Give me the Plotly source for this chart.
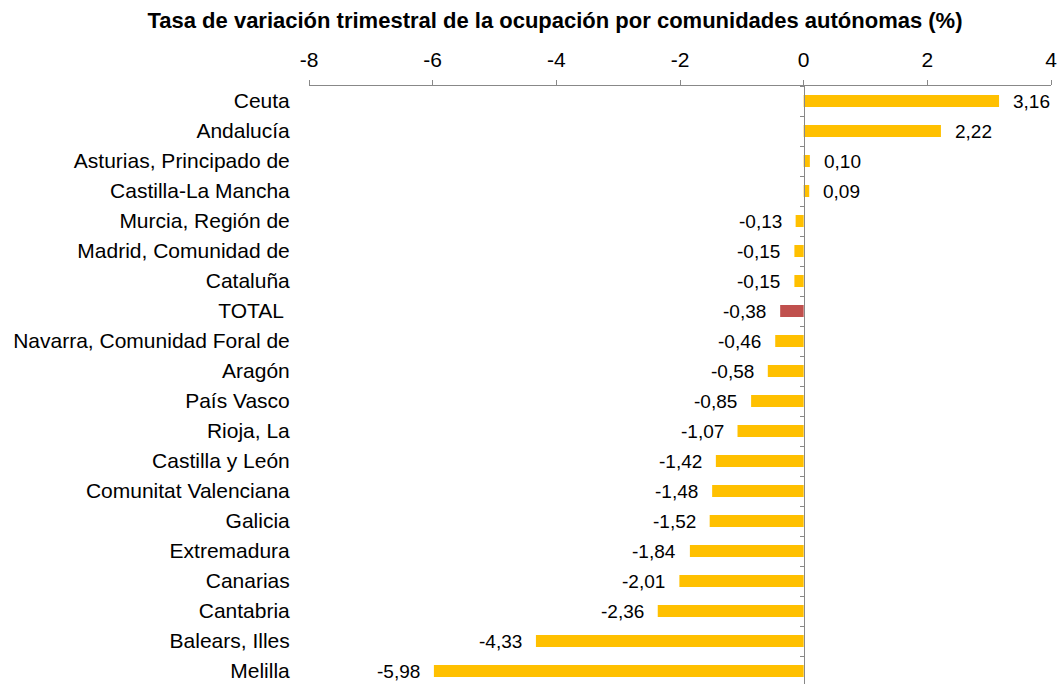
import plotly.graph_objects as go

categories = ["Ceuta", "Andalucía", "Asturias, Principado de", "Castilla-La Mancha",
              "Murcia, Región de", "Madrid, Comunidad de", "Cataluña", "TOTAL\u00a0",
              "Navarra, Comunidad Foral de", "Aragón", "País Vasco", "Rioja, La",
              "Castilla y León", "Comunitat Valenciana", "Galicia", "Extremadura",
              "Canarias", "Cantabria", "Balears, Illes", "Melilla"]
values = [3.16, 2.22, 0.10, 0.09, -0.13, -0.15, -0.15, -0.38, -0.46, -0.58, -0.85,
          -1.07, -1.42, -1.48, -1.52, -1.84, -2.01, -2.36, -4.33, -5.98]
x_ticks = [-8, -6, -4, -2, 0, 2, 4]

YELLOW = "#FFC000"
RED = "#C0504D"
FONT = "Liberation Sans, Arial"
colors = [RED if c.startswith("TOTAL") else YELLOW for c in categories]
labels = [f"{v:.2f}".replace(".", ",") for v in values]

fig = go.Figure()
fig.add_trace(go.Bar(y=categories, x=values, orientation="h", marker_color=colors,
                     marker_line_width=0, width=0.4, showlegend=False, hoverinfo="skip"))
# invisible trace for the zero-axis with category boundary ticks
fig.add_trace(go.Scatter(y=categories, x=[0] * len(categories), mode="markers",
                         marker=dict(opacity=0), yaxis="y2", showlegend=False, hoverinfo="skip"))

for c, v, t in zip(categories, values, labels):
    fig.add_annotation(x=v, y=c, text=t, showarrow=False,
                       xanchor="left" if v >= 0 else "right",
                       xshift=12 if v >= 0 else -12,
                       font=dict(family=FONT, size=19, color="#000000"))

yrange = [-0.5 + 598 / 30, -0.5]
fig.update_layout(
    width=1061, height=684,
    margin=dict(l=309, r=10, t=86, b=0),
    plot_bgcolor="white", paper_bgcolor="white",
    font=dict(family=FONT, size=21, color="#000000"),
    title=dict(text="<b>Tasa de variación trimestral de la ocupación por comunidades autónomas (%)</b>",
               x=555 / 1061, xanchor="center", y=1 - 20 / 684, yanchor="middle",
               font=dict(family=FONT, size=22, color="#000000")),
    bargap=0.6,
    xaxis=dict(side="top", range=[-8, 4], tickvals=x_ticks, ticktext=[str(t) for t in x_ticks],
               showgrid=False, zeroline=False, showline=True, linecolor="#888888", linewidth=1,
               ticks="outside", ticklen=5, tickcolor="#888888", ticklabelstandoff=5,
               tickfont=dict(family=FONT, size=21)),
    yaxis=dict(type="category", categoryorder="array", categoryarray=categories,
               range=yrange, showgrid=False, zeroline=False, showline=False,
               ticks="outside", ticklen=14, tickcolor="rgba(0,0,0,0)",
               tickfont=dict(family=FONT, size=21)),
    yaxis2=dict(type="category", categoryorder="array", categoryarray=categories,
                range=yrange, overlaying="y", anchor="free", position=8 / 12,
                showgrid=False, zeroline=False, showline=True, linecolor="#888888", linewidth=1,
                ticks="outside", ticklen=4, tickcolor="#888888", tickson="boundaries",
                showticklabels=False),
)

fig.write_html("out.html", config={"displayModeBar": False},
               post_script="document.body.style.margin='0';document.body.style.overflow='hidden';")
